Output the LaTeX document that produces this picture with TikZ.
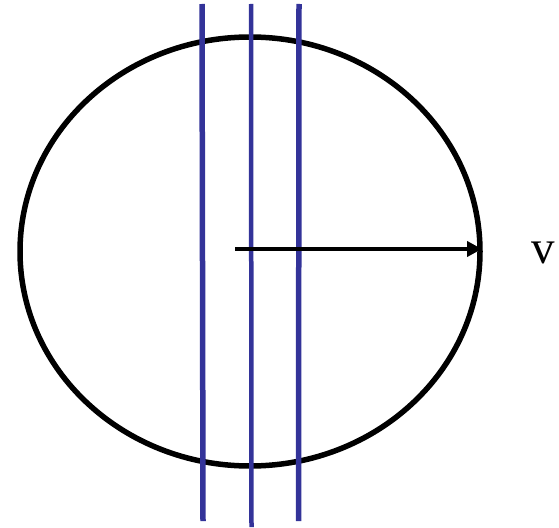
\documentclass[tikz,border=0pt]{standalone}
\usepackage{fontspec}
\setmainfont{Liberation Serif}
\usetikzlibrary{arrows.meta}
\begin{document}
\begin{tikzpicture}[x=1pt,y=-1pt,
  ring/.style={draw=black,line width=5.5pt},
  beam/.style={draw={rgb,255:red,51;green,51;blue,153},line width=5.5pt},
  vec/.style={draw=black,line width=4pt,-{Triangle[length=15pt,width=15pt]}}]
\useasboundingbox (0,0) rectangle (559,527);
\coordinate (c) at (250,251.5);
\draw[ring] (c) ellipse[x radius=230,y radius=214.5];
\coordinate (b1t) at (202,4); \coordinate (b1b) at (203,521);
\coordinate (b2t) at (251,4); \coordinate (b2b) at (251.5,527);
\coordinate (b3t) at (299,4); \coordinate (b3b) at (298.5,521);
\draw[beam] (b1t) -- (b1b);
\draw[beam,line width=4.5pt] (b2t) -- (b2b);
\draw[beam] (b3t) -- (b3b);
\coordinate (a0) at (235,249);
\coordinate (a1) at (482,249);
\draw[vec] (a0) -- (a1);
\node[font=\fontsize{47}{52}\selectfont,inner sep=0pt] (v) at (543,253) {v};
\end{tikzpicture}
\end{document}
